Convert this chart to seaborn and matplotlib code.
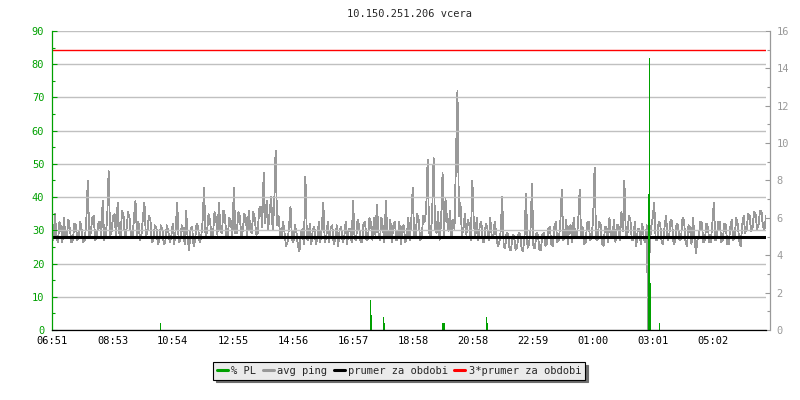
import numpy as np
import pandas as pd
import matplotlib
matplotlib.use("Agg")
import matplotlib.pyplot as plt
import seaborn as sns
from matplotlib.lines import Line2D
from matplotlib.ticker import MultipleLocator, FixedLocator

# data
title = "10.150.251.206 vcera"
start = "06:51"
tick_labels = ["06:51", "08:53", "10:54", "12:55", "14:56", "16:57",
               "18:58", "20:58", "22:59", "01:00", "03:01", "05:02"]
step_min = 3  # one ping value every 3 minutes
ping_ms = [
    5.9, 4.8, 6.2, 5.0, 4.7, 5.8, 5.5, 4.7, 6.0, 4.9, 5.0, 5.9, 5.4, 4.7, 4.8, 5.7, 5.6, 4.8, 5.0, 5.8,
    5.3, 4.7, 4.8, 5.8, 8.0, 4.9, 5.2, 6.0, 6.1, 4.8, 4.9, 5.7, 5.8, 5.0, 6.9, 4.8, 5.1, 5.9, 8.5, 5.0,
    5.3, 6.1, 6.2, 4.9, 6.8, 5.2, 5.0, 6.4, 6.1, 4.9, 5.4, 6.3, 6.0, 5.0, 4.9, 6.0, 6.9, 5.1, 5.8, 4.8,
    5.1, 6.0, 6.8, 5.0, 5.3, 6.1, 5.9, 4.7, 4.8, 5.6, 5.5, 4.6, 4.8, 5.6, 5.4, 4.6, 4.7, 5.6, 5.3, 4.7,
    5.0, 5.7, 4.6, 5.4, 6.8, 4.7, 4.8, 5.6, 5.4, 4.6, 6.4, 4.9, 4.3, 5.4, 5.5, 4.5, 4.8, 5.7, 5.5, 4.7,
    4.9, 5.8, 7.6, 5.0, 5.2, 6.2, 5.9, 5.0, 5.1, 6.3, 6.0, 5.1, 6.8, 5.3, 5.2, 6.4, 6.1, 5.0, 5.1, 6.0,
    5.8, 5.0, 7.6, 5.2, 5.2, 6.3, 6.1, 5.0, 5.3, 6.2, 6.0, 5.0, 6.4, 5.4, 5.2, 6.3, 6.0, 5.1, 5.2, 6.5,
    6.6, 5.5, 8.4, 5.7, 6.9, 5.4, 6.3, 7.1, 5.4, 6.5, 9.6, 5.6, 6.1, 5.1, 5.0, 5.8, 5.2, 4.5, 4.7, 5.5,
    6.6, 4.8, 4.7, 5.6, 5.2, 4.5, 4.2, 5.2, 5.4, 4.6, 8.2, 4.9, 4.8, 5.7, 4.6, 5.4, 5.5, 4.6, 4.9, 5.8,
    4.7, 5.5, 6.8, 4.7, 5.0, 5.8, 4.7, 5.5, 5.6, 4.6, 4.8, 5.6, 4.5, 5.4, 5.5, 4.7, 4.9, 5.8, 4.6, 5.4,
    5.4, 4.7, 6.9, 4.9, 4.8, 5.9, 5.6, 4.7, 4.7, 5.7, 5.8, 4.8, 4.9, 6.0, 5.7, 4.8, 6.0, 5.1, 6.7, 5.2,
    4.8, 6.0, 5.5, 4.7, 6.9, 5.0, 5.0, 5.9, 4.7, 5.6, 5.8, 4.8, 4.9, 5.8, 4.6, 5.5, 5.6, 4.7, 5.0, 6.0,
    4.8, 5.8, 7.6, 4.9, 5.1, 6.2, 5.9, 4.8, 4.9, 6.1, 5.8, 6.4, 9.1, 5.2, 5.0, 6.1, 9.2, 5.4, 5.2, 6.3,
    4.8, 5.7, 8.4, 5.1, 7.0, 5.9, 5.3, 6.4, 5.0, 5.9, 5.4, 9.2, 12.8, 6.1, 6.8, 5.1, 5.4, 6.2, 5.1, 5.9,
    5.6, 4.8, 8.0, 5.7, 5.0, 6.0, 4.8, 5.6, 5.8, 4.7, 4.7, 5.7, 5.5, 4.8, 6.0, 5.0, 4.9, 5.8, 5.2, 4.5,
    4.6, 5.3, 7.1, 4.5, 4.4, 5.2, 5.1, 4.3, 4.3, 5.1, 5.0, 4.3, 4.4, 5.2, 5.1, 4.4, 4.2, 5.0, 7.3, 4.4,
    4.6, 5.3, 7.8, 4.4, 4.4, 5.2, 5.1, 4.3, 4.3, 5.1, 5.2, 4.5, 4.6, 5.4, 5.5, 4.6, 4.5, 5.5, 5.8, 4.7,
    4.8, 5.7, 7.5, 4.8, 5.0, 5.9, 4.6, 5.5, 5.6, 4.7, 6.0, 5.0, 4.9, 5.8, 7.5, 4.9, 5.5, 4.6, 4.7, 5.7,
    5.8, 4.8, 5.0, 5.9, 8.7, 4.9, 4.8, 5.8, 5.7, 4.6, 4.5, 5.5, 5.5, 4.7, 6.0, 5.0, 4.9, 5.9, 4.7, 5.6,
    5.6, 4.8, 6.3, 5.3, 8.0, 4.9, 5.1, 6.1, 5.9, 4.8, 4.8, 5.8, 4.5, 5.4, 5.4, 4.6, 5.7, 4.9, 4.7, 5.6,
    0.0, 4.6, 5.5, 6.0, 6.8, 4.8, 4.8, 5.8, 5.7, 4.7, 4.6, 5.6, 6.1, 4.8, 5.0, 5.9, 5.8, 4.6, 4.7, 5.7,
    5.6, 4.8, 4.9, 6.0, 5.9, 4.7, 4.5, 5.6, 5.5, 4.6, 6.0, 5.0, 4.1, 4.8, 5.0, 5.8, 5.7, 4.7, 4.8, 5.7,
    5.5, 4.7, 4.7, 5.7, 6.8, 4.8, 4.9, 5.8, 5.8, 4.7, 4.8, 5.7, 5.6, 4.6, 4.6, 5.5, 5.9, 4.8, 5.0, 6.0,
    5.7, 4.8, 4.5, 5.6, 6.1, 5.2, 5.4, 6.2, 6.1, 5.3, 5.5, 6.3, 6.2, 5.4, 5.6, 6.4, 6.3, 5.5, 5.4, 6.1,
]
pl_time = ["10:30", "17:32", "17:34", "17:58", "18:00", "19:58", "20:00",
           "21:26", "21:28", "02:51", "02:53", "02:55", "03:13"]
pl_pct = [2, 9, 4.5, 4, 2, 2, 2, 4, 2, 41, 82, 14, 2]
prumer = 5.0

GREEN = "#00a000"
GREY = "#999999"


def offset(t):
    # minutes since the start of the period
    h, m = map(int, t.split(":"))
    sh, sm = map(int, start.split(":"))
    return (h * 60 + m - sh * 60 - sm) % 1440


ping = pd.DataFrame({"min": np.arange(len(ping_ms)) * step_min, "ms": ping_ms})
pl = pd.DataFrame({"min": [offset(t) for t in pl_time], "pct": pl_pct})

sns.set_style("white")
plt.rcParams["font.family"] = ["DejaVu Sans Mono"]
plt.rcParams["font.size"] = 7.5

fig = plt.figure(figsize=(8, 4), dpi=100)
ax_pl = fig.add_axes([0.065, 0.175, 0.8925, 0.7475])
ax_ping = ax_pl.twinx()

# ping on right scale
sns.lineplot(data=ping, x="min", y="ms", ax=ax_ping, color=GREY, linewidth=0.6,
             antialiased=False)
ax_ping.axhline(prumer, color="black", linewidth=2.2)
ax_ping.axhline(3 * prumer, color="red", linewidth=1.0)

# packet loss on left scale, drawn above the ping line
ax_pl.bar(pl["min"], pl["pct"], width=2.4, color=GREEN, linewidth=0, antialiased=False)
ax_pl.set_zorder(ax_ping.get_zorder() + 1)
ax_pl.patch.set_visible(False)

ax_pl.set_xlim(0, ping["min"].iloc[-1])
ax_pl.set_ylim(0, 90)
ax_ping.set_ylim(0, 16)

ax_pl.xaxis.set_major_locator(FixedLocator([offset(t) for t in tick_labels]))
ax_pl.set_xticklabels(tick_labels)
ax_pl.yaxis.set_major_locator(MultipleLocator(10))
ax_pl.yaxis.set_minor_locator(MultipleLocator(5))
ax_ping.yaxis.set_major_locator(MultipleLocator(2))
ax_ping.yaxis.set_minor_locator(MultipleLocator(1))

ax_pl.grid(axis="y", color="#c0c0c0", linewidth=1.0)
ax_pl.grid(axis="x", visible=False)
ax_ping.grid(False)

ax_pl.tick_params(axis="y", which="both", direction="in", colors=GREEN, width=0.8, pad=5.5)
ax_pl.tick_params(axis="y", which="major", length=3.6)
ax_pl.tick_params(axis="y", which="minor", length=2.2)
ax_pl.tick_params(axis="x", direction="in", colors="black", length=3.6, width=0.8, pad=4)
ax_ping.tick_params(axis="y", which="both", direction="in", colors=GREY, width=0.8, pad=4.5)
ax_ping.tick_params(axis="y", which="major", length=3.6)
ax_ping.tick_params(axis="y", which="minor", length=2.2)

for ax in (ax_pl, ax_ping):
    ax.set_xlabel("")
    ax.set_ylabel("")
    ax.spines["top"].set_visible(False)
ax_pl.spines["right"].set_visible(False)
ax_pl.spines["left"].set_color(GREEN)
ax_pl.spines["bottom"].set_color("black")
ax_ping.spines["left"].set_visible(False)
ax_ping.spines["bottom"].set_visible(False)
ax_ping.spines["right"].set_color(GREY)
ax_ping.spines["right"].set_position(("outward", 3))
for s in ("left", "bottom"):
    ax_pl.spines[s].set_linewidth(0.9)
ax_ping.spines["right"].set_linewidth(0.9)

fig.text(0.5125, 0.965, title, ha="center", va="center", fontsize=7.5)

handles = [Line2D([], [], color=GREEN, lw=2.2),
           Line2D([], [], color=GREY, lw=2.2),
           Line2D([], [], color="black", lw=2.2),
           Line2D([], [], color="red", lw=2.2)]
labels = ["% PL", "avg ping", "prumer za obdobi", "3*prumer za obdobi"]
leg = fig.legend(handles, labels, loc="center", bbox_to_anchor=(0.499, 0.0725), ncol=4,
                 handlelength=1.05, handletextpad=0.35, columnspacing=0.6,
                 borderpad=0.35, fancybox=False, framealpha=1,
                 shadow={"color": "#6e6e6e", "alpha": 1}, fontsize=7.5)
leg.get_frame().set_facecolor("#ebebeb")
leg.get_frame().set_edgecolor("black")
leg.get_frame().set_linewidth(0.8)

fig.savefig("out.png", dpi=100)
